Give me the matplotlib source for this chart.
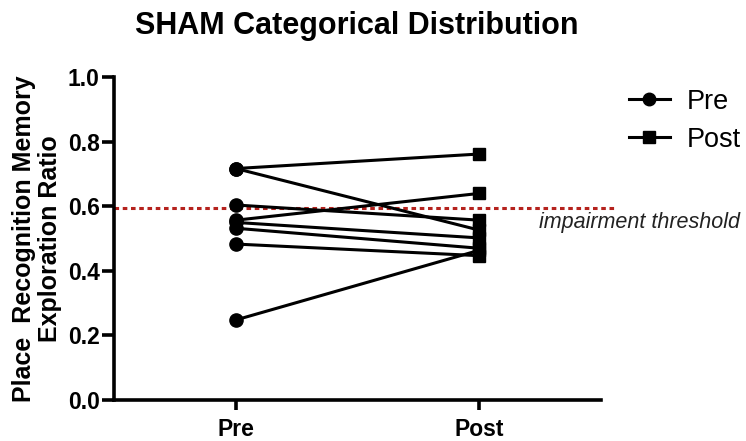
import matplotlib
matplotlib.use('Agg')
import matplotlib.pyplot as plt
from matplotlib.lines import Line2D

plt.rcParams['font.family'] = ['Liberation Sans', 'DejaVu Sans']

# values
groups = ['Pre', 'Post']
pre_vals = [0.717, 0.717, 0.604, 0.557, 0.550, 0.532, 0.483, 0.248]
post_vals = [0.762, 0.526, 0.557, 0.640, 0.502, 0.470, 0.447, 0.464]
threshold = 0.595
threshold_label = 'impairment threshold'

fig = plt.figure(figsize=(7.46, 4.41), dpi=100)
ax = fig.add_axes([0.153, 0.093, 0.653, 0.732])

for a, b in zip(pre_vals, post_vals):
    ax.plot([0, 1], [a, b], color='black', lw=2.2, zorder=3)
ax.plot([0] * len(pre_vals), pre_vals, 'o', color='black', ms=9.5, zorder=4)
ax.plot([1] * len(post_vals), post_vals, 's', color='black', ms=9, zorder=4)

# dashed threshold line, runs a little past the axis
ax.plot([-0.5, 1.555], [threshold, threshold], ls=(0, (1.5, 1.2)), color='#b5221d',
        lw=2.2, clip_on=False, zorder=2)
ax.text(1.245, threshold - 0.012, threshold_label, style='italic', fontsize=15.5,
        ha='left', va='top', color='#222222', clip_on=False)

ax.set_xlim(-0.5, 1.5)
ax.set_ylim(0, 1.0)
ax.set_xticks([0, 1])
ax.set_xticklabels(groups, fontweight='bold', fontsize=16.5)
ax.set_yticks([0, 0.2, 0.4, 0.6, 0.8, 1.0])
ax.set_yticklabels(['0.0', '0.2', '0.4', '0.6', '0.8', '1.0'], fontweight='bold', fontsize=16.5)

for s in ['top', 'right']:
    ax.spines[s].set_visible(False)
for s in ['left', 'bottom']:
    ax.spines[s].set_linewidth(2.6)
ax.tick_params(axis='y', length=8.5, width=2.6, pad=2)
ax.tick_params(axis='x', length=7, width=2.6, pad=6)

ax.set_ylabel('Place  Recognition Memory\nExploration Ratio', fontweight='bold',
              fontsize=18, linespacing=1.1, labelpad=4)

fig.suptitle('SHAM Categorical Distribution', fontweight='bold', fontsize=22,
             x=0.478, y=0.975)

handles = [Line2D([], [], color='black', lw=2.2, marker='o', ms=9),
           Line2D([], [], color='black', lw=2.2, marker='s', ms=9)]
fig.legend(handles, groups, loc='upper left', bbox_to_anchor=(0.843, 0.799),
           frameon=False, fontsize=19.5, handlelength=1.5, handletextpad=0.65,
           labelspacing=0.45, borderpad=0, borderaxespad=0)

fig.savefig('out.png', dpi=100)
